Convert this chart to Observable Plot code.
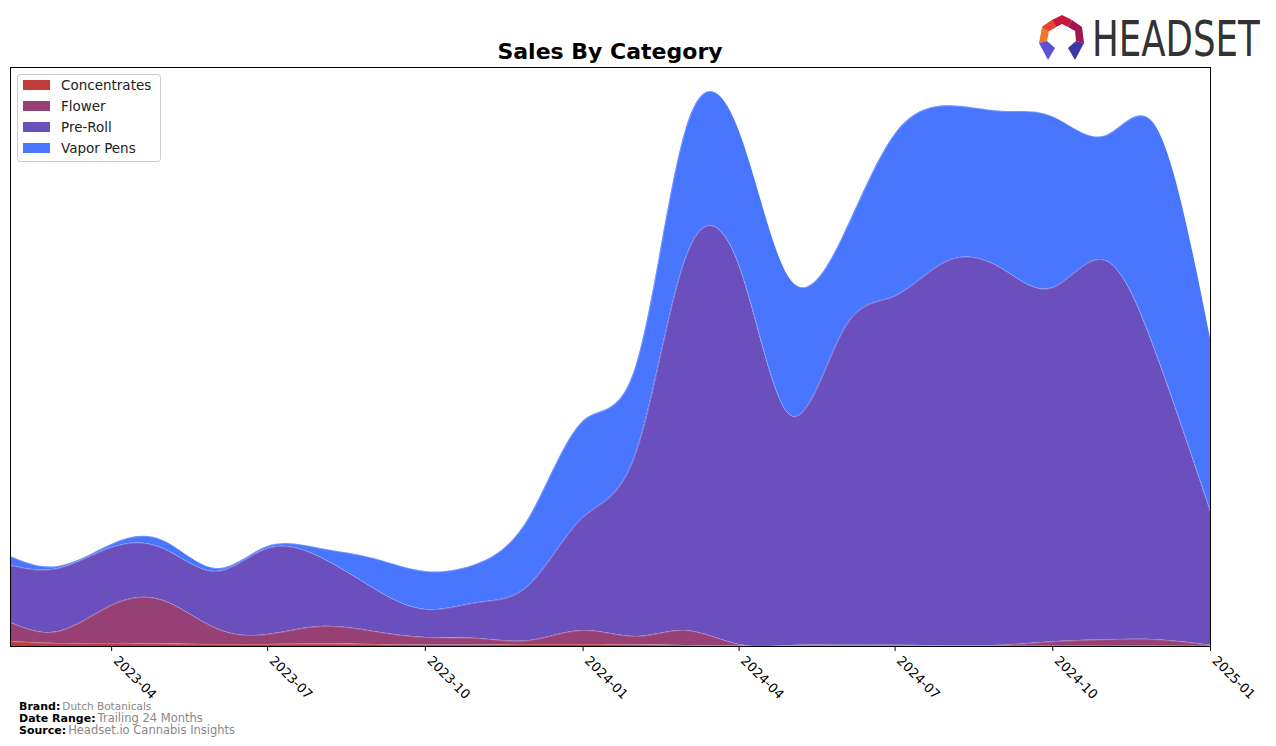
<!DOCTYPE html>
<html>
<head>
<meta charset="utf-8">
<script src="https://cdn.jsdelivr.net/npm/d3@7"></script>
<script src="https://cdn.jsdelivr.net/npm/@observablehq/plot@0.6"></script>
<style>
  html, body { margin: 0; padding: 0; background: #fff; }
  #wrap { position: relative; width: 1276px; height: 746px; overflow: hidden; }
  #wrap > svg { position: absolute; left: 0; top: 0; }
</style>
</head>
<body>
<div id="wrap"></div>
<script>
// ---- data (units are relative sales) ----
const months = ["2023-02","2023-03","2023-04","2023-05","2023-06","2023-07","2023-08","2023-09","2023-10","2023-11","2023-12",
                "2024-01","2024-02","2024-03","2024-04","2024-05","2024-06","2024-07","2024-08","2024-09","2024-10","2024-11","2024-12","2025-01"];
const categories = ["Concentrates", "Flower", "Pre-Roll", "Vapor Pens"];
const colors = ["#c0393b", "#964075", "#6a4fbd", "#4876ff"];
const concentrates = [5, 3, 3, 2.5, 2, 2, 2.5, 2, 1.5, 1.5, 2, 2, 1.5, 1, 0.5, 0.3, 0.3, 0.3, 0.2, 0.2, 0.3, 0.3, 0.3, 0.2];
const flower       = [19, 12, 38, 43.5, 16, 10, 17.5, 13, 7.5, 6.5, 4, 14, 8.5, 15, 1.5, 0.7, 1, 1, 0.5, 1, 4.5, 6.5, 6.5, 1];
const preRoll      = [57, 63, 58, 52, 57, 86, 69, 43, 28, 36, 56, 113, 184, 373, 379, 230, 315, 349, 385, 377, 354, 379, 283, 134];
const vaporPens    = [9, 2, 3, 8, 3, 2, 9, 30, 38, 39, 68, 96, 87, 128, 135, 136, 95, 162, 155, 157, 171, 125, 228, 173];
const tickLabels = ["2023-04","2023-07","2023-10","2024-01","2024-04","2024-07","2024-10","2025-01"];
const xStart = "2023-02-01", xEnd = "2025-01-01";
const yMax = 579;

const series = [concentrates, flower, preRoll, vaporPens];
const rows = [];
categories.forEach((c, ci) => {
  months.forEach((m, mi) => rows.push({date: new Date(m + "-01T00:00:00Z"), category: c, value: series[ci][mi]}));
});
const tickDates = tickLabels.map(t => new Date(t + "-01T00:00:00Z"));

const chart = Plot.plot({
  width: 1276,
  height: 746,
  marginLeft: 10,
  marginRight: 66,
  marginTop: 67,
  marginBottom: 100,
  style: {fontFamily: "DejaVu Sans", fontSize: "13px", background: "transparent", overflow: "visible"},
  x: {type: "utc", domain: [new Date(xStart + "T00:00:00Z"), new Date(xEnd + "T00:00:00Z")]},
  y: {domain: [0, yMax], axis: null},
  color: {domain: categories, range: colors},
  marks: [
    Plot.areaY(rows, {x: "date", y: "value", z: "category", fill: "category", order: categories, curve: "natural"}),
    Plot.lineY(rows, Plot.stackY2({x: "date", y: "value", z: "category", order: categories, curve: "natural",
      stroke: "#ffffff", strokeOpacity: 0.3, strokeWidth: 0.8})),
    Plot.frame({stroke: "black", strokeWidth: 1}),
    Plot.axisX({ticks: tickDates, tickSize: 5, tickFormat: () => "", label: null}),
    Plot.axisX({ticks: tickDates, tickFormat: d3.utcFormat("%Y-%m"), tickRotate: 45, tickSize: 0, tickPadding: 3,
      fontSize: 13, fill: "black", label: null, dx: 4, dy: 9})
  ]
});
document.getElementById("wrap").appendChild(chart);

// ---- overlay: title, legend, logo, footer ----
const NS = "http://www.w3.org/2000/svg";
const ov = document.createElementNS(NS, "svg");
ov.setAttribute("width", 1276);
ov.setAttribute("height", 746);
ov.setAttribute("font-family", "DejaVu Sans");
function el(tag, attrs, text) {
  const e = document.createElementNS(NS, tag);
  for (const k in attrs) e.setAttribute(k, attrs[k]);
  if (text != null) e.textContent = text;
  return e;
}
// title
ov.appendChild(el("text", {x: 610, y: 59, "text-anchor": "middle", "font-size": 22, "font-weight": "bold", fill: "#000"}, "Sales By Category"));

// legend
ov.appendChild(el("rect", {x: 17.5, y: 74.5, width: 143, height: 87, rx: 3, fill: "#fff", "fill-opacity": 0.85, stroke: "#cccccc"}));
categories.forEach((c, i) => {
  const cy = 85 + i * 21;
  ov.appendChild(el("rect", {x: 23, y: cy - 5, width: 27, height: 10, fill: colors[i]}));
  ov.appendChild(el("text", {x: 61, y: cy + 5, "font-size": 13.5, fill: "#222"}, c));
});

// logo
const g = el("g", {});
g.appendChild(el("polygon", {points: "1052,20 1062,15 1072,20 1068,27 1062,24 1056,27", fill: "#c8163d"}));
g.appendChild(el("polygon", {points: "1072,20 1082,27 1084,43 1076,41 1075,31 1068,27", fill: "#a01452"}));
g.appendChild(el("polygon", {points: "1052,20 1042,27 1039,43 1047,41 1049,31 1056,27", fill: "#f07a24"}));
g.appendChild(el("polygon", {points: "1039,43 1047,41 1055,48 1048,60", fill: "#5a54d1"}));
g.appendChild(el("polygon", {points: "1084,43 1076,41 1068,48 1075,60", fill: "#3b37a5"}));
g.appendChild(el("polygon", {points: "1042,27 1052,20 1056,27 1049,31", fill: "#e8402e"}));
ov.appendChild(g);
ov.appendChild(el("text", {x: 0, y: 0, "font-size": 35.6, fill: "#333333", transform: "translate(1092,56) scale(1,1.38)"}, "HEADSET"));

// footer
function footer(y, label, value, vsize) {
  const t = el("text", {x: 19, y: y, "font-size": 11, fill: "#000"});
  t.appendChild(el("tspan", {"font-weight": "bold"}, label));
  t.appendChild(el("tspan", {fill: "#888888", "font-size": vsize, dx: 2}, value));
  ov.appendChild(t);
}
footer(710, "Brand:", "Dutch Botanicals", 10.5);
footer(721.5, "Date Range:", "Trailing 24 Months", 11.5);
footer(733.5, "Source:", "Headset.io Cannabis Insights", 11.5);

document.getElementById("wrap").appendChild(ov);
</script>
</body>
</html>
